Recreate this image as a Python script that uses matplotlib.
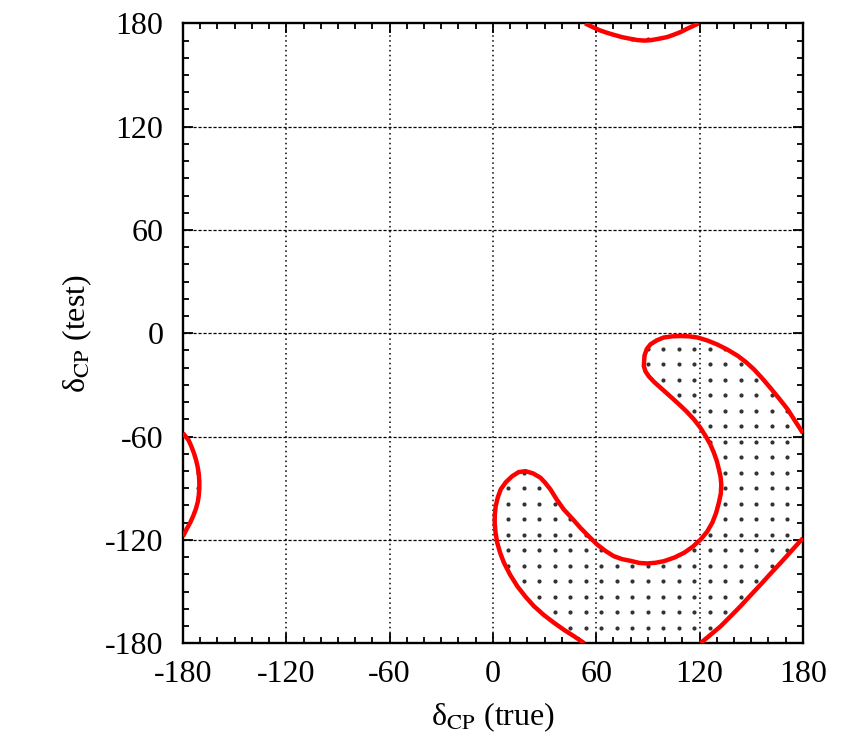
import numpy as np
import matplotlib
matplotlib.use("Agg")
import matplotlib.pyplot as plt
from matplotlib.path import Path

plt.rcParams['font.family'] = ['Liberation Serif', 'DejaVu Serif']
plt.rcParams['mathtext.fontset'] = 'stix'
plt.rcParams['axes.unicode_minus'] = False

# main contour (from right edge, around the hook, down to bottom edge)
main_x = [180, 175.5, 171, 166, 161, 156.3, 151.6, 147, 142, 136, 130, 124.5, 119, 114,
          109, 104, 99, 95, 91.5, 89.3, 88, 87.6, 88.6, 90.5, 93.5, 97.3, 102, 107,
          112, 116.7, 120.4, 123.5, 126.2, 128.3, 130, 131.2, 132.2, 132.6, 132.3,
          131.2, 129.6, 127.4, 124.4, 120.6, 116, 111, 105.3, 99.2, 94.4, 89.6, 85,
          80, 75, 70.2, 65.3, 60.5, 55.6, 50.8, 46, 41.1, 37, 33.4, 30.3, 27.6, 23.3,
          18.9, 15, 11.2, 7.5, 4.5, 2.8, 1.6, 1.1, 1, 1.5, 2.5, 4.2, 6.4, 10, 14.2,
          18.8, 23.8, 29.5, 35.5, 41.3, 47.1, 53]
main_y = [-58, -51, -44, -37.7, -31.6, -26.1, -21, -16.8, -13, -9.4, -6.4, -4.2, -2.5,
          -1.8, -1.6, -1.8, -2.5, -4.2, -6.4, -9.2, -13, -19, -22.2, -25, -28.2, -31.6,
          -35.8, -40.3, -45, -50, -54.8, -59.7, -64.5, -69.4, -74.2, -79, -83.5, -88,
          -93.2, -98.4, -104.3, -110, -115.2, -119.8, -124, -127.5, -130.3, -132.4,
          -133.3, -133.7, -133.4, -132.2, -131.2, -129.5, -126.4, -122.7, -117.9, -113,
          -107.6, -102.3, -96.5, -90.7, -86.8, -83.9, -81.4, -80.1, -80.6, -83, -86.5,
          -90.7, -95.4, -100.4, -105.2, -110, -115.8, -121.7, -127.6, -133.3, -140.3,
          -147, -152.9, -158.5, -163.6, -168.2, -172.3, -176, -180]

# lower right contour
low_x = [120.5, 126.3, 132.2, 138, 143.8, 149.6, 155.5, 161.3, 167.1, 173.5, 180]
low_y = [-180, -175.2, -170.2, -164.4, -158.5, -152.2, -145.9, -139.5, -133.3, -126.2, -119]

# top lens (wrap of the bottom)
top_x = [53.5, 58, 62, 66, 70, 75, 80, 84, 88, 92, 96, 101, 105, 109, 113, 116.5, 119.5]
top_y = [180, 177.8, 176, 174.6, 173.4, 172, 171, 170.3, 170, 170.3, 171, 172, 173.4,
         175, 177, 178.6, 180]

# left lens (wrap of the right edge)
left_x = [-180, -176.8, -175, -173.5, -172.3, -171.4, -170.8, -170.5, -170.5, -170.8,
          -171.4, -172.5, -174, -175.8, -178, -180]
left_y = [-58, -62, -66, -70, -74, -78, -82, -86, -90, -94, -98, -102, -106, -110,
          -114, -118]

ticks = [-180, -120, -60, 0, 60, 120, 180]
dot_step = 9

fig = plt.figure(figsize=(8.51, 7.54), dpi=100)
ax = fig.add_axes([0.215, 0.147, 0.7285, 0.822])

# dotted (excluded) region
regions = [
    np.column_stack([main_x + low_x, main_y + low_y]),
    np.column_stack([top_x, top_y]),
    np.column_stack([left_x, left_y]),
]
g = np.arange(-171, 172, dot_step)
gx, gy = np.meshgrid(g, g)
pts = np.column_stack([gx.ravel(), gy.ravel()])
inside = np.zeros(len(pts), dtype=bool)
for poly in regions:
    inside |= Path(poly).contains_points(pts)
ax.plot(pts[inside, 0], pts[inside, 1], 'o', color='0.2', ms=3.0, mew=0, zorder=2)

# grid
for t in ticks[1:-1]:
    ax.axvline(t, color='black', lw=1.1, ls=(0, (1, 2.2)), zorder=1)
    ax.axhline(t, color='black', lw=0.9, ls=(0, (2.5, 1.5)), zorder=1)

lw = 3.2
red = '#ff0000'
for cx, cy in [(main_x, main_y), (low_x, low_y), (top_x, top_y), (left_x, left_y)]:
    ax.plot(cx, cy, color=red, lw=lw, solid_joinstyle='round',
            solid_capstyle='butt', zorder=3)

ax.set_xlim(-180, 180)
ax.set_ylim(-180, 180)
ax.set_xticks(ticks)
ax.set_yticks(ticks)
ax.set_xticks(np.arange(-180, 181, 10), minor=True)
ax.set_yticks(np.arange(-180, 181, 10), minor=True)
ax.tick_params(which='both', direction='in', top=True, right=True, width=1.3)
ax.tick_params(which='major', length=7.5)
ax.tick_params(which='minor', length=4)
ax.tick_params(axis='x', labelsize=23, pad=12)
ax.tick_params(axis='y', labelsize=23, pad=14)
for s in ax.spines.values():
    s.set_linewidth(1.7)

ax.set_xlabel('δ$_{\\mathrm{CP}}$ (true)', fontsize=23, labelpad=8)
ax.set_ylabel('δ$_{\\mathrm{CP}}$ (test)', fontsize=23, labelpad=8)

fig.savefig('out.png', dpi=100)
